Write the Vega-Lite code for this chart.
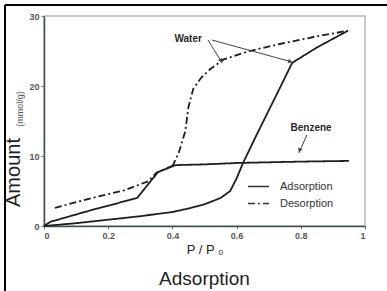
{
  "$schema": "https://vega.github.io/schema/vega-lite/v6.json",
  "width": 321,
  "height": 210,
  "autosize": {"type": "none"},
  "padding": {"left": 44, "top": 16, "right": 22, "bottom": 65},
  "background": "white",
  "config": {
    "font": "Liberation Sans",
    "view": {"stroke": "#b3bab2", "strokeWidth": 1.5},
    "axis": {
      "domainColor": "#3f5252",
      "domainWidth": 1.5,
      "tickColor": "#6f7f7f",
      "tickSize": 3,
      "grid": false,
      "labelFontSize": 9,
      "labelFontWeight": "bold",
      "labelColor": "#555",
      "titleFontWeight": "normal",
      "titleColor": "#222"
    }
  },
  "title": {"text": "Adsorption", "orient": "bottom", "fontSize": 19, "fontWeight": "normal", "color": "#222", "offset": -22, "font": "Liberation Sans"},
  "layer": [
    {
      "data": {"values": [
        {"s": "Water ads", "t": "Adsorption", "x": 0, "y": 0},
        {"s": "Water ads", "t": "Adsorption", "x": 0.1, "y": 0.4},
        {"s": "Water ads", "t": "Adsorption", "x": 0.2, "y": 0.9},
        {"s": "Water ads", "t": "Adsorption", "x": 0.3, "y": 1.4},
        {"s": "Water ads", "t": "Adsorption", "x": 0.4, "y": 2.0},
        {"s": "Water ads", "t": "Adsorption", "x": 0.45, "y": 2.5},
        {"s": "Water ads", "t": "Adsorption", "x": 0.5, "y": 3.1},
        {"s": "Water ads", "t": "Adsorption", "x": 0.55, "y": 4.0},
        {"s": "Water ads", "t": "Adsorption", "x": 0.58, "y": 5.0},
        {"s": "Water ads", "t": "Adsorption", "x": 0.6, "y": 6.8},
        {"s": "Water ads", "t": "Adsorption", "x": 0.62, "y": 9.0},
        {"s": "Water ads", "t": "Adsorption", "x": 0.66, "y": 12.8},
        {"s": "Water ads", "t": "Adsorption", "x": 0.7, "y": 16.5},
        {"s": "Water ads", "t": "Adsorption", "x": 0.74, "y": 20.2},
        {"s": "Water ads", "t": "Adsorption", "x": 0.773, "y": 23.3},
        {"s": "Water ads", "t": "Adsorption", "x": 0.85, "y": 25.5},
        {"s": "Water ads", "t": "Adsorption", "x": 0.947, "y": 27.9},
        {"s": "Benzene ads", "t": "Adsorption", "x": 0, "y": 0},
        {"s": "Benzene ads", "t": "Adsorption", "x": 0.02, "y": 0.6},
        {"s": "Benzene ads", "t": "Adsorption", "x": 0.15, "y": 2.3},
        {"s": "Benzene ads", "t": "Adsorption", "x": 0.29, "y": 4.0},
        {"s": "Benzene ads", "t": "Adsorption", "x": 0.355, "y": 7.7},
        {"s": "Benzene ads", "t": "Adsorption", "x": 0.41, "y": 8.7},
        {"s": "Benzene ads", "t": "Adsorption", "x": 0.5, "y": 8.8},
        {"s": "Benzene ads", "t": "Adsorption", "x": 0.6, "y": 9.0},
        {"s": "Benzene ads", "t": "Adsorption", "x": 0.8, "y": 9.2},
        {"s": "Benzene ads", "t": "Adsorption", "x": 0.95, "y": 9.3},
        {"s": "Benzene des", "t": "Desorption", "x": 0.034, "y": 2.6},
        {"s": "Benzene des", "t": "Desorption", "x": 0.15, "y": 4.0},
        {"s": "Benzene des", "t": "Desorption", "x": 0.25, "y": 5.1},
        {"s": "Benzene des", "t": "Desorption", "x": 0.325, "y": 6.4},
        {"s": "Benzene des", "t": "Desorption", "x": 0.35, "y": 7.6},
        {"s": "Benzene des", "t": "Desorption", "x": 0.4, "y": 8.6},
        {"s": "Water des", "t": "Desorption", "x": 0.4, "y": 8.5},
        {"s": "Water des", "t": "Desorption", "x": 0.42, "y": 10.5},
        {"s": "Water des", "t": "Desorption", "x": 0.44, "y": 13.5},
        {"s": "Water des", "t": "Desorption", "x": 0.45, "y": 17.0},
        {"s": "Water des", "t": "Desorption", "x": 0.465, "y": 19.6},
        {"s": "Water des", "t": "Desorption", "x": 0.49, "y": 21.2},
        {"s": "Water des", "t": "Desorption", "x": 0.52, "y": 22.5},
        {"s": "Water des", "t": "Desorption", "x": 0.56, "y": 23.8},
        {"s": "Water des", "t": "Desorption", "x": 0.64, "y": 25.0},
        {"s": "Water des", "t": "Desorption", "x": 0.735, "y": 26.0},
        {"s": "Water des", "t": "Desorption", "x": 0.84, "y": 27.0},
        {"s": "Water des", "t": "Desorption", "x": 0.947, "y": 27.9}
      ]},
      "mark": {"type": "line", "color": "#1e1e1e", "strokeWidth": 1.8},
      "encoding": {
        "x": {"field": "x", "type": "quantitative",
          "scale": {"domain": [0, 1], "nice": false, "zero": false},
          "axis": {
            "title": "P / P ₀",
            "titleFontSize": 13,
            "titlePadding": 3,
            "labelOverlap": false,
            "values": [0, 0.05, 0.1, 0.15, 0.2, 0.25, 0.3, 0.35, 0.4, 0.45, 0.5, 0.55, 0.6, 0.65, 0.7, 0.75, 0.8, 0.85, 0.9, 0.95, 1],
            "labelExpr": "round(datum.value*100) % 20 == 0 ? (datum.value == 0 ? '0' : datum.value == 1 ? '1' : format(datum.value, '.1f')) : ''"
          }},
        "y": {"field": "y", "type": "quantitative",
          "scale": {"domain": [0, 30], "nice": false, "zero": false},
          "axis": {
            "title": "Amount",
            "titleFontSize": 20,
            "titleAngle": 270,
            "titleBaseline": "bottom",
            "titleX": -21,
            "titleY": 156,
            "values": [0, 10, 20, 30],
            "format": "d"
          }},
        "detail": {"field": "s"},
        "strokeDash": {"field": "t", "type": "nominal",
          "scale": {"domain": ["Adsorption", "Desorption"], "range": [[1, 0], [7, 3, 2, 3]]},
          "legend": {
            "title": null,
            "orient": "none",
            "legendX": 203,
            "legendY": 159,
            "symbolType": "stroke",
            "symbolSize": 440,
            "symbolStrokeWidth": 1.4,
            "symbolStrokeColor": "#333",
            "labelFontSize": 11,
            "labelColor": "#333",
            "labelOffset": 10,
            "rowPadding": 0
          }}
      }
    },
    {
      "data": {"values": [
        {"x": 0.511, "y": 26.57, "x2": 0.555, "y2": 23.29},
        {"x": 0.523, "y": 26.57, "x2": 0.773, "y2": 23.43},
        {"x": 0.819, "y": 13.0, "x2": 0.794, "y2": 10.43}
      ]},
      "mark": {"type": "rule", "color": "#3a4444", "strokeWidth": 1},
      "encoding": {
        "x": {"field": "x", "type": "quantitative", "scale": {"domain": [0, 1], "nice": false, "zero": false}},
        "y": {"field": "y", "type": "quantitative", "scale": {"domain": [0, 30], "nice": false, "zero": false}},
        "x2": {"field": "x2"},
        "y2": {"field": "y2"}
      }
    },
    {
      "data": {"values": [{"x": 0.552, "y": 23.6}]},
      "mark": {"type": "point", "shape": "triangle-up", "filled": true, "size": 22, "angle": 149, "color": "#3a4444", "opacity": 1},
      "encoding": {
        "x": {"field": "x", "type": "quantitative", "scale": {"domain": [0, 1], "nice": false, "zero": false}},
        "y": {"field": "y", "type": "quantitative", "scale": {"domain": [0, 30], "nice": false, "zero": false}}
      }
    },
    {
      "data": {"values": [{"x": 0.767, "y": 23.5}]},
      "mark": {"type": "point", "shape": "triangle-up", "filled": true, "size": 22, "angle": 105, "color": "#3a4444", "opacity": 1},
      "encoding": {
        "x": {"field": "x", "type": "quantitative", "scale": {"domain": [0, 1], "nice": false, "zero": false}},
        "y": {"field": "y", "type": "quantitative", "scale": {"domain": [0, 30], "nice": false, "zero": false}}
      }
    },
    {
      "data": {"values": [{"x": 0.796, "y": 10.8}]},
      "mark": {"type": "point", "shape": "triangle-up", "filled": true, "size": 22, "angle": 204, "color": "#3a4444", "opacity": 1},
      "encoding": {
        "x": {"field": "x", "type": "quantitative", "scale": {"domain": [0, 1], "nice": false, "zero": false}},
        "y": {"field": "y", "type": "quantitative", "scale": {"domain": [0, 30], "nice": false, "zero": false}}
      }
    },
    {
      "data": {"values": [
        {"x": 0.449, "y": 26.7, "label": "Water"},
        {"x": 0.832, "y": 14.0, "label": "Benzene"}
      ]},
      "mark": {"type": "text", "fontSize": 10, "fontWeight": "bold", "color": "#2a2a2a", "font": "Liberation Sans"},
      "encoding": {
        "x": {"field": "x", "type": "quantitative", "scale": {"domain": [0, 1], "nice": false, "zero": false}},
        "y": {"field": "y", "type": "quantitative", "scale": {"domain": [0, 30], "nice": false, "zero": false}},
        "text": {"field": "label"}
      }
    },
    {
      "data": {"values": [{"x": -0.0748, "y": 16.7, "label": "(mmol/g)"}]},
      "mark": {"type": "text", "fontSize": 9, "angle": 270, "color": "#555", "font": "Liberation Sans"},
      "encoding": {
        "x": {"field": "x", "type": "quantitative", "scale": {"domain": [0, 1], "nice": false, "zero": false}},
        "y": {"field": "y", "type": "quantitative", "scale": {"domain": [0, 30], "nice": false, "zero": false}},
        "text": {"field": "label"}
      }
    },
    {
      "data": {"values": [
        {"x": -0.1215, "y": 31.57, "x2": 1.07, "y2": 31.57},
        {"x": -0.1215, "y": 31.57, "x2": -0.1215, "y2": -9.29}
      ]},
      "mark": {"type": "rule", "color": "#000", "strokeWidth": 2},
      "encoding": {
        "x": {"field": "x", "type": "quantitative", "scale": {"domain": [0, 1], "nice": false, "zero": false}},
        "y": {"field": "y", "type": "quantitative", "scale": {"domain": [0, 30], "nice": false, "zero": false}},
        "x2": {"field": "x2"},
        "y2": {"field": "y2"}
      }
    }
  ]
}
